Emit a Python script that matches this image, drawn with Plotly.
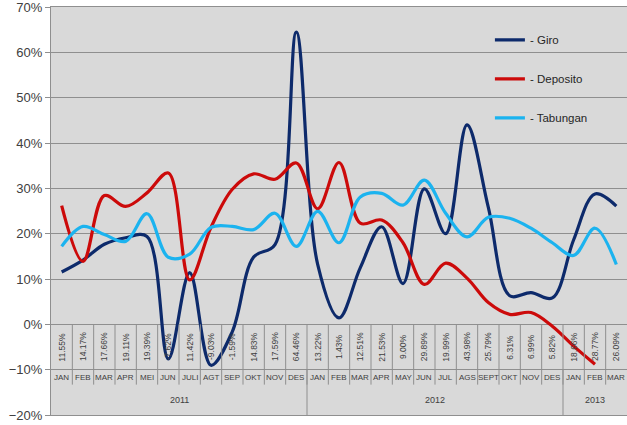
import plotly.graph_objects as go

months = ["JAN", "FEB", "MAR", "APR", "MEI", "JUN", "JULI", "AGT", "SEP", "OKT", "NOV", "DES",
          "JAN", "FEB", "MAR", "APR", "MAY", "JUN", "JUL", "AGS", "SEPT", "OKT", "NOV", "DES",
          "JAN", "FEB", "MAR"]
years = ["2011", "2012", "2013"]
year_counts = [12, 12, 3]

giro = [11.55, 14.17, 17.66, 19.11, 19.39, -7.62, 11.42, -9.03, -1.59, 14.83, 17.59, 64.46,
        13.22, 1.43, 12.51, 21.53, 9.00, 29.89, 19.99, 43.98, 25.79, 6.31, 6.99, 5.82,
        18.66, 28.77, 26.09]
deposito = [26.2, 13.9, 28.4, 26.0, 29.0, 33.4, 9.8, 21.4, 29.8, 33.2, 32.0, 35.6,
            25.5, 35.7, 22.3, 23.0, 18.0, 8.8, 13.5, 10.2, 4.8, 2.2, 2.6, -0.4,
            -4.8, -8.8, None]
tabungan = [17.2, 21.6, 19.8, 18.3, 24.4, 14.8, 15.5, 21.4, 21.6, 20.9, 24.5, 17.2,
            24.9, 18.0, 28.1, 28.9, 26.3, 31.8, 24.5, 19.3, 23.6, 23.4, 21.2, 18.0,
            15.2, 21.2, 13.2]
y_ticks = [-0.2, -0.1, 0.0, 0.1, 0.2, 0.3, 0.4, 0.5, 0.6, 0.7]

series = [("- Giro", giro, "#0d2a6b"),
          ("- Deposito", deposito, "#cc0a0a"),
          ("- Tabungan", tabungan, "#1bb3ef")]

x = list(range(len(months)))
fig = go.Figure()
for name, vals, col in series:
    fig.add_trace(go.Scatter(
        x=x, y=[v / 100 if v is not None else None for v in vals],
        mode="lines", name=name, legendgroup=name,
        line=dict(color=col, width=3.2, shape="spline", smoothing=1.0),
        connectgaps=False,
    ))

grid = "#8f8f8f"
txt = "#404040"
shapes = []
annotations = []
n = len(months)
for i in range(n - 1):
    shapes.append(dict(type="line", xref="x", yref="y", x0=i + 0.5, x1=i + 0.5,
                       y0=0, y1=-0.133, line=dict(color=grid, width=1)))
pos = -0.5
for c in year_counts[:-1]:
    pos += c
    shapes.append(dict(type="line", xref="x", yref="y", x0=pos, x1=pos,
                       y0=-0.10, y1=-0.20, line=dict(color=grid, width=1)))

for i, v in enumerate(giro):
    annotations.append(dict(x=i, y=-0.05, xref="x", yref="y", text=f"{v:.2f}%",
                            textangle=-90, showarrow=False,
                            font=dict(size=8.5, color=txt, family="Liberation Sans Narrow, Liberation Sans")))
for i, m in enumerate(months):
    annotations.append(dict(x=i, y=-0.117, xref="x", yref="y", text=m, showarrow=False,
                            font=dict(size=8, color=txt, family="Liberation Sans Narrow, Liberation Sans")))
start = 0
for yv, c in zip(years, year_counts):
    annotations.append(dict(x=start + (c - 1) / 2, y=-0.167, xref="x", yref="y", text=yv,
                            showarrow=False,
                            font=dict(size=9, color=txt, family="Liberation Sans")))
    start += c

fig.update_layout(
    width=627, height=425,
    margin=dict(l=51, r=0, t=7, b=10),
    paper_bgcolor="white",
    plot_bgcolor="#d9d9d9",
    showlegend=True,
    legend=dict(x=0.762, y=0.955, xanchor="left", yanchor="top",
                bgcolor="rgba(0,0,0,0)", traceorder="grouped", tracegroupgap=20,
                font=dict(size=11.5, color="#262626", family="Liberation Sans")),
    xaxis=dict(range=[-0.5, n - 0.5], showticklabels=False, showgrid=False, zeroline=False,
               showline=True, linecolor=grid, mirror=True, ticks=""),
    yaxis=dict(range=[-0.2, 0.7], tickvals=y_ticks, tickformat=".0%",
               ticklabeloverflow="allow",
               showgrid=True, gridcolor=grid, gridwidth=1.2, zeroline=False,
               showline=True, linecolor=grid, ticks="outside", ticklen=5, tickcolor=grid,
               tickfont=dict(size=13, color="#404040", family="Liberation Sans")),
    shapes=shapes,
    annotations=annotations,
)
fig.write_html("out.html")
